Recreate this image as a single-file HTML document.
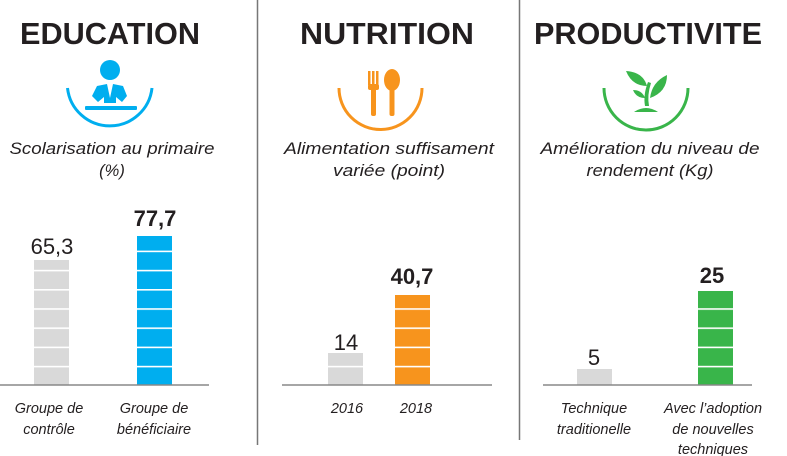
<!DOCTYPE html>
<html><head><meta charset="utf-8"><style>html,body{margin:0;padding:0;background:#fff}svg{display:block}</style></head><body>
<svg width="787" height="456" viewBox="0 0 787 456" xmlns="http://www.w3.org/2000/svg" font-family="Liberation Sans, sans-serif">
<defs>
<pattern id="seg" x="0" y="385" width="10" height="19.2" patternUnits="userSpaceOnUse"><rect x="0" y="0" width="10" height="1.6" fill="#fff"/></pattern>
</defs>
<line x1="257.5" y1="0" x2="257.5" y2="445" stroke="#777" stroke-width="1.5"/>
<line x1="519.5" y1="0" x2="519.5" y2="440" stroke="#777" stroke-width="1.5"/>
<g font-weight="bold" font-size="31" fill="#231f20" text-anchor="middle">
<text x="110" y="44" textLength="180" lengthAdjust="spacingAndGlyphs">EDUCATION</text>
<text x="387" y="44" textLength="174" lengthAdjust="spacingAndGlyphs">NUTRITION</text>
<text x="648" y="44" textLength="228" lengthAdjust="spacingAndGlyphs">PRODUCTIVITE</text>
</g>
<g fill="none" stroke-width="3">
<path d="M67.5 88 A42.5 42.5 0 0 0 152 88" stroke="#00aeef"/>
<path d="M339 88 A41.5 41.5 0 0 0 422 88" stroke="#f7941d"/>
<path d="M604 88 A42 42 0 0 0 688 88" stroke="#39b54a"/>
</g>
<g fill="#00aeef">
<circle cx="110" cy="70" r="10"/>
<path d="M97 86 L107 84 L110 98 L113 84 L123 86 L127 96 L122 102 L116 97 L116 103 L104 103 L104 97 L98 102 L92 96 Z"/>
<rect x="85" y="106" width="52" height="4" rx="1"/>
</g>
<g fill="#f7941d">
<rect x="368" y="71" width="2.5" height="14"/><rect x="372" y="71" width="2.5" height="14"/><rect x="376" y="71" width="2.5" height="14"/>
<rect x="368" y="84" width="11" height="6" rx="2"/>
<rect x="371" y="88" width="5" height="28" rx="2"/>
<ellipse cx="392" cy="80" rx="8" ry="11"/>
<rect x="389.5" y="88" width="5" height="28" rx="2"/>
</g>
<g fill="#39b54a">
<path d="M634 112 Q646 104 658 112 Z"/>
<path d="M645 106 Q643 95 648 82 L651 83 Q647 95 649 106 Z"/>
<path d="M647 86 Q632 86 626 71 Q643 72 647 86 Z"/>
<path d="M650 98 Q652 82 667 75 Q667 92 650 98 Z"/>
<path d="M645 98 Q636 98 633 90 Q642 90 645 98 Z"/>
</g>
<g font-style="italic" font-size="16.5" fill="#231f20" text-anchor="middle">
<text x="112" y="154" textLength="205" lengthAdjust="spacingAndGlyphs">Scolarisation au primaire</text>
<text x="112" y="176">(%)</text>
<text x="389" y="154" textLength="210" lengthAdjust="spacingAndGlyphs">Alimentation suffisament</text>
<text x="389" y="176" textLength="112" lengthAdjust="spacingAndGlyphs">variée (point)</text>
<text x="650" y="154" textLength="219" lengthAdjust="spacingAndGlyphs">Amélioration du niveau de</text>
<text x="650" y="176" textLength="127" lengthAdjust="spacingAndGlyphs">rendement (Kg)</text>
</g>
<rect x="34" y="260" width="35" height="125" fill="#d9d9d9"/>
<rect x="137" y="236" width="35" height="149" fill="#00aeef"/>
<rect x="328" y="353" width="35" height="32" fill="#d9d9d9"/>
<rect x="395" y="295" width="35" height="90" fill="#f7941d"/>
<rect x="577" y="369" width="35" height="16" fill="#d9d9d9"/>
<rect x="698" y="291" width="35" height="94" fill="#39b54a"/>
<g fill="url(#seg)">
<rect x="34" y="262" width="35" height="123"/>
<rect x="137" y="238" width="35" height="147"/>
<rect x="328" y="355" width="35" height="30"/>
<rect x="395" y="297" width="35" height="88"/>
<rect x="698" y="293" width="35" height="92"/>
</g>
<g stroke="#888" stroke-width="1.5">
<line x1="0" y1="385" x2="209" y2="385"/>
<line x1="282" y1="385" x2="492" y2="385"/>
<line x1="543" y1="385" x2="752" y2="385"/>
</g>
<g font-size="22" fill="#231f20" text-anchor="middle">
<text x="52" y="254">65,3</text>
<text x="155" y="226" font-weight="bold">77,7</text>
<text x="346" y="350">14</text>
<text x="412" y="284" font-weight="bold">40,7</text>
<text x="594" y="365">5</text>
<text x="712" y="283" font-weight="bold">25</text>
</g>
<g font-style="italic" font-size="14.5" fill="#231f20" text-anchor="middle">
<text x="49" y="413">Groupe de</text>
<text x="49" y="434">contrôle</text>
<text x="154" y="413">Groupe de</text>
<text x="154" y="434">bénéficiaire</text>
<text x="347" y="413">2016</text>
<text x="416" y="413">2018</text>
<text x="594" y="413">Technique</text>
<text x="594" y="434">traditionelle</text>
<text x="713" y="413">Avec l’adoption</text>
<text x="713" y="434">de nouvelles</text>
<text x="713" y="454">techniques</text>
</g>
</svg>
</body></html>
